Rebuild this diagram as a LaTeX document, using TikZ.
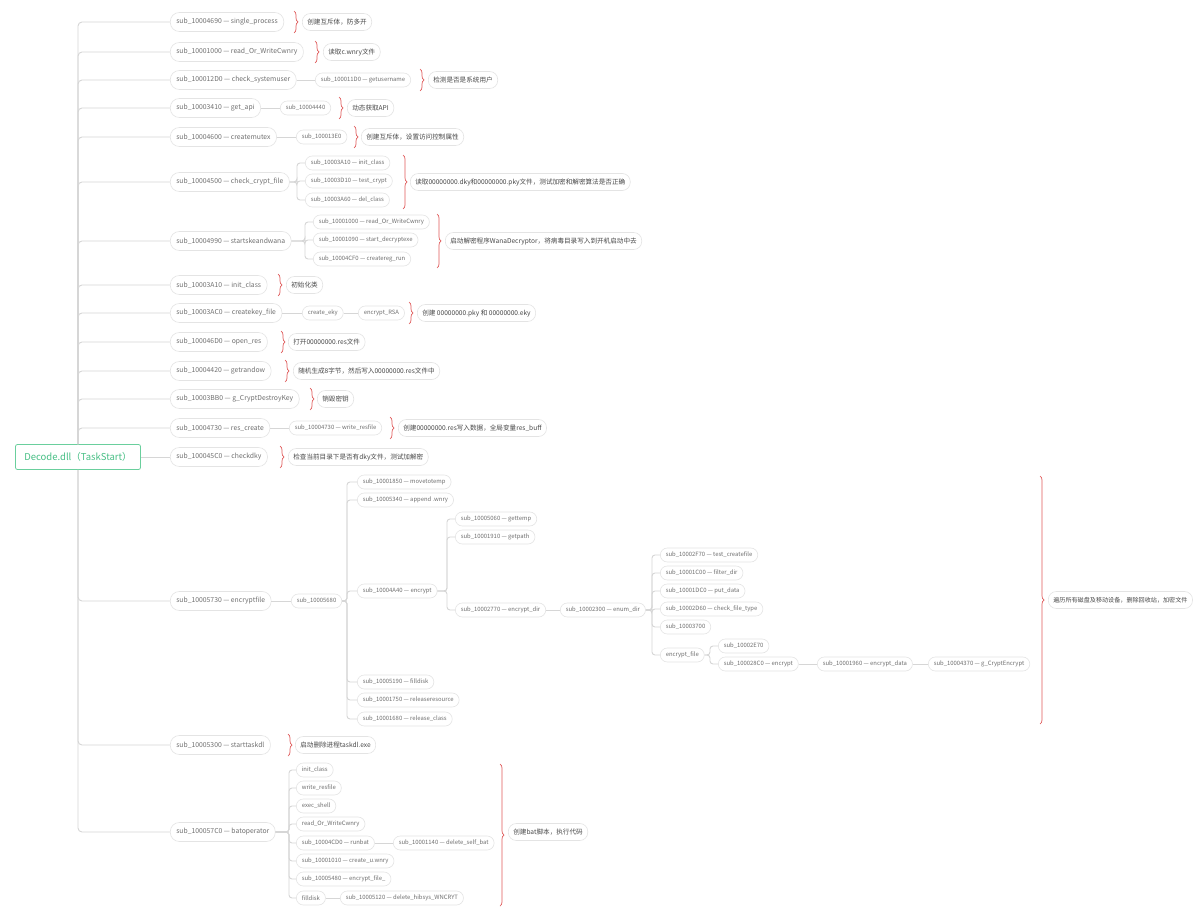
\documentclass[tikz,border=0pt]{standalone}
\usepackage{fontspec}
\setmainfont{Noto Sans CJK SC}
\usetikzlibrary{decorations.pathreplacing,calc}
\definecolor{txt}{HTML}{707070}
\definecolor{notetxt}{HTML}{484848}
\definecolor{nodeborder}{HTML}{E4E4E4}
\definecolor{linec}{HTML}{D6D6D6}
\definecolor{bracered}{HTML}{E05A5A}
\definecolor{rootgreen}{HTML}{47BF85}
\definecolor{rootborder}{HTML}{6ACF9D}
\tikzset{
  fn/.style={draw=nodeborder, fill=white, rounded corners=7pt, minimum height=14pt,
    inner xsep=5.5pt, inner ysep=0pt, font=\fontsize{5.9}{7}\selectfont, text=txt,
    anchor=west, line width=0.6pt},
  fnone/.style={fn, rounded corners=9pt, minimum height=19pt, inner xsep=6pt,
    font=\fontsize{6.8}{8}\selectfont},
  note/.style={fn, rounded corners=8pt, minimum height=17pt, inner xsep=5pt,
    font=\fontsize{6.6}{8}\selectfont, text=notetxt},
  link/.style={draw=linec, line width=0.9pt, rounded corners=3pt},
  brc/.style={draw=bracered, line width=0.7pt, decorate, decoration={brace, amplitude=4pt}},
  rootbox/.style={draw=rootborder, fill=white, rounded corners=2pt, minimum width=125pt,
    minimum height=25pt, text=rootgreen, font=\fontsize{9.5}{11}\selectfont, line width=0.8pt},
}
\begin{document}
\begin{tikzpicture}[x=1pt,y=-1pt]
\useasboundingbox (0,0) rectangle (1200,920);
\fill[white] (0,0) rectangle (1200,920);

% root
\node[rootbox] (root) at (78,457) {Decode.dll（TaskStart）};

% level 1
\node[fnone] (a1) at (170,22) {sub\_10004690 — single\_process};
\node[fnone] (a2) at (170,52) {sub\_10001000 — read\_Or\_WriteCwnry};
\node[fnone] (a3) at (170,80) {sub\_100012D0 — check\_systemuser};
\node[fnone] (a4) at (170,108) {sub\_10003410 — get\_api};
\node[fnone] (a5) at (170,137) {sub\_10004600 — createmutex};
\node[fnone] (a6) at (170,182) {sub\_10004500 — check\_crypt\_file};
\node[fnone] (a7) at (170,241) {sub\_10004990 — startskeandwana};
\node[fnone] (a8) at (170,285) {sub\_10003A10 — init\_class};
\node[fnone] (a9) at (170,313) {sub\_10003AC0 — createkey\_file};
\node[fnone] (a10) at (170,342) {sub\_100046D0 — open\_res};
\node[fnone] (a11) at (170,371) {sub\_10004420 — getrandow};
\node[fnone] (a12) at (170,399) {sub\_10003BB0 — g\_CryptDestroyKey};
\node[fnone] (a13) at (170,428) {sub\_10004730 — res\_create};
\node[fnone] (a14) at (170,457) {sub\_100045C0 — checkdky};
\node[fnone] (a15) at (170,601) {sub\_10005730 — encryptfile};
\node[fnone] (a16) at (170,745) {sub\_10005300 — starttaskdl};
\node[fnone] (a17) at (170,832) {sub\_100057C0 — batoperator};

% trunk connectors
\foreach \n in {a1,a2,a3,a4,a5,a6,a7,a8,a9,a10,a11,a12,a13}
  \draw[link,rounded corners=4pt] (\n.west) -| (root.north);
\foreach \n in {a15,a16,a17}
  \draw[link,rounded corners=4pt] (\n.west) -| (root.south);
\draw[link] (root.east) -- (a14.west);

% branch 3
\node[fn] (b3) at (315,80) {sub\_100011D0 — getusername};
\draw[link] (a3.east) -- (b3.west);
% branch 4
\node[fn] (b4) at (280,108) {sub\_10004440};
\draw[link] (a4.east) -- (b4.west);
% branch 5
\node[fn] (b5) at (296,137) {sub\_100013E0};
\draw[link] (a5.east) -- (b5.west);
% branch 6
\node[fn] (b6a) at (305,163) {sub\_10003A10 — init\_class};
\node[fn] (b6b) at (305,181) {sub\_10003D10 — test\_crypt};
\node[fn] (b6c) at (305,200) {sub\_10003A60 — del\_class};
\foreach \n in {b6a,b6b,b6c}
  \draw[link] (\n.west) -- ++(-8,0) |- (a6.east);
% branch 7
\node[fn] (b7a) at (313,222) {sub\_10001000 — read\_Or\_WriteCwnry};
\node[fn] (b7b) at (313,240) {sub\_10001090 — start\_decryptexe};
\node[fn] (b7c) at (313,259) {sub\_10004CF0 — createreg\_run};
\foreach \n in {b7a,b7b,b7c}
  \draw[link] (\n.west) -- ++(-8,0) |- (a7.east);
% branch 9
\node[fn] (b9) at (302,313) {create\_eky};
\node[fn] (c9) at (358,313) {encrypt\_RSA};
\draw[link] (a9.east) -- (b9.west);
\draw[link] (b9.east) -- (c9.west);
% branch 13
\node[fn] (b13) at (289,428) {sub\_10004730 — write\_resfile};
\draw[link] (a13.east) -- (b13.west);

% branch 15
\node[fn] (b15) at (291,601) {sub\_10005680};
\draw[link] (a15.east) -- (b15.west);
\node[fn] (c1) at (357,482) {sub\_10001850 — movetotemp};
\node[fn] (c2) at (357,500) {sub\_10005340 — append .wnry};
\node[fn] (c3) at (357,591) {sub\_10004A40 — encrypt};
\node[fn] (c4) at (357,682) {sub\_10005190 — filldisk};
\node[fn] (c5) at (357,700) {sub\_10001750 — releaseresource};
\node[fn] (c6) at (357,719) {sub\_10001680 — release\_class};
\foreach \n in {c1,c2,c3,c4,c5,c6}
  \draw[link] (\n.west) -- ++(-10,0) |- (b15.east);
\node[fn] (d1) at (455,519) {sub\_10005060 — gettemp};
\node[fn] (d2) at (455,537) {sub\_10001910 — getpath};
\node[fn] (d3) at (455,610) {sub\_10002770 — encrypt\_dir};
\foreach \n in {d1,d2,d3}
  \draw[link] (\n.west) -- ++(-8,0) |- (c3.east);
\node[fn] (e1) at (560,610) {sub\_10002300 — enum\_dir};
\draw[link] (d3.east) -- (e1.west);
\node[fn] (f1) at (660,555) {sub\_10002F70 — test\_createfile};
\node[fn] (f2) at (660,573) {sub\_10001C00 — filter\_dir};
\node[fn] (f3) at (660,591) {sub\_10001DC0 — put\_data};
\node[fn] (f4) at (660,609) {sub\_10002D60 — check\_file\_type};
\node[fn] (f5) at (660,627) {sub\_10003700};
\node[fn] (f6) at (660,655) {encrypt\_file};
\foreach \n in {f1,f2,f3,f4,f5,f6}
  \draw[link] (\n.west) -- ++(-8,0) |- (e1.east);
\node[fn] (g1) at (718,646) {sub\_10002E70};
\node[fn] (g2) at (718,664) {sub\_100028C0 — encrypt};
\foreach \n in {g1,g2}
  \draw[link] (\n.west) -- ++(-8,0) |- (f6.east);
\node[fn] (h1) at (817,664) {sub\_10001960 — encrypt\_data};
\node[fn] (h2) at (928,664) {sub\_10004370 — g\_CryptEncrypt};
\draw[link] (g2.east) -- (h1.west);
\draw[link] (h1.east) -- (h2.west);

% branch 17
\node[fn] (k1) at (296,770) {init\_class};
\node[fn] (k2) at (296,788) {write\_resfile};
\node[fn] (k3) at (296,806) {exec\_shell};
\node[fn] (k4) at (296,824) {read\_Or\_WriteCwnry};
\node[fn] (k5) at (296,843) {sub\_10004CD0 — runbat};
\node[fn] (k6) at (296,861) {sub\_10001010 — create\_u.wnry};
\node[fn] (k7) at (296,879) {sub\_10005480 — encrypt\_file\_};
\node[fn] (k8) at (296,898) {filldisk};
\foreach \n in {k1,k2,k3,k4,k5,k6,k7,k8}
  \draw[link] (\n.west) -- ++(-7,0) |- (a17.east);
\node[fn] (k5a) at (393,843) {sub\_10001140 — delete\_self\_bat};
\node[fn] (k8a) at (340,898) {sub\_10005120 — delete\_hibsys\_WNCRYT};
\draw[link] (k5.east) -- (k5a.west);
\draw[link] (k8.east) -- (k8a.west);

% notes and braces
\node[note] (n1) at (302,22) {创建互斥体，防多开};
\draw[brc] (294,11) -- (294,33);
\node[note] (n2) at (323,52) {读取c.wnry文件};
\draw[brc] (315,41) -- (315,63);
\node[note] (n3) at (428,80) {检测是否是系统用户};
\draw[brc] (420,69) -- (420,91);
\node[note] (n4) at (347,108) {动态获取API};
\draw[brc] (339,97) -- (339,119);
\node[note] (n5) at (361,137) {创建互斥体，设置访问控制属性};
\draw[brc] (354,126) -- (354,148);
\node[note] (n6) at (410,182) {读取00000000.dky和00000000.pky文件，测试加密和解密算法是否正确};
\draw[brc] (403,155) -- (403,209);
\node[note] (n7) at (445,241) {启动解密程序WanaDecryptor，将病毒目录写入到开机启动中去};
\draw[brc] (437,214) -- (437,268);
\node[note] (n8) at (286,285) {初始化类};
\draw[brc] (278,274) -- (278,296);
\node[note] (n9) at (417,313) {创建 00000000.pky 和 00000000.eky};
\draw[brc] (409,302) -- (409,324);
\node[note] (n10) at (288,342) {打开00000000.res文件};
\draw[brc] (281,331) -- (281,353);
\node[note] (n11) at (293,371) {随机生成8字节，然后写入00000000.res文件中};
\draw[brc] (285,360) -- (285,382);
\node[note] (n12) at (317,399) {销毁密钥};
\draw[brc] (310,388) -- (310,410);
\node[note] (n13) at (398,428) {创建00000000.res写入数据，全局变量res\_buff};
\draw[brc] (390,417) -- (390,439);
\node[note] (n14) at (288,457) {检查当前目录下是否有dky文件，测试加解密};
\draw[brc] (280,446) -- (280,468);
\node[note, font=\fontsize{6.1}{7}\selectfont] (n15) at (1048,600) {遍历所有磁盘及移动设备，删除回收站，加密文件};
\draw[brc] (1040,476) -- (1040,724);
\node[note] (n16) at (295,745) {启动删除进程taskdl.exe};
\draw[brc] (288,734) -- (288,756);
\node[note] (n17) at (508,832) {创建bat脚本，执行代码};
\draw[brc] (500,764) -- (500,906);
\end{tikzpicture}
\end{document}
